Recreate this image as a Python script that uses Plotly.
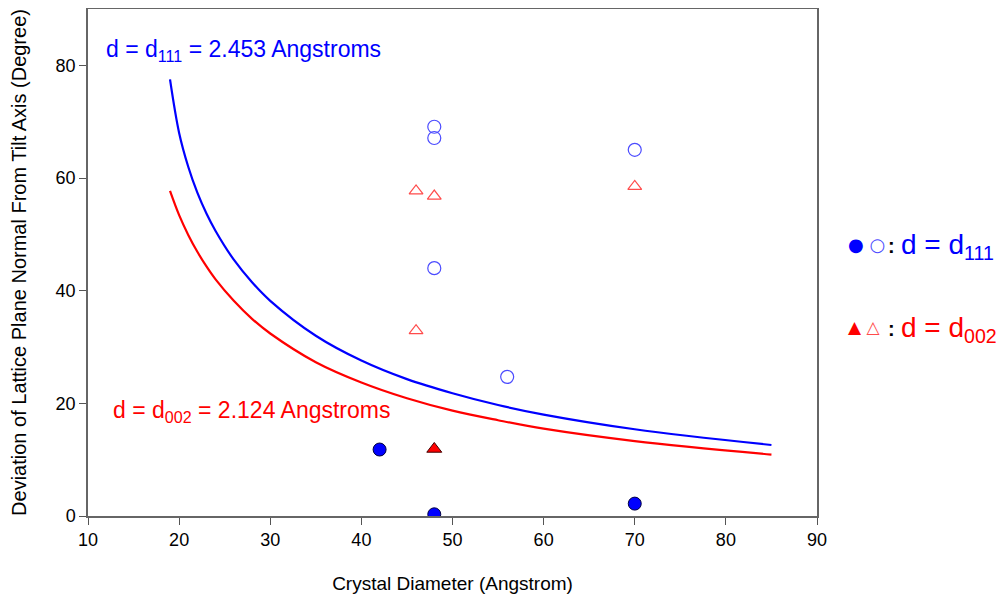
import plotly.graph_objects as go

# ---------------- data ----------------
# theoretical curves
curve_x = [19, 20, 21, 22, 23, 24, 26, 28, 30, 35, 40, 45, 50, 55, 60, 70, 85]
curve_d111 = [77.5, 68.0, 62.0, 57.4, 53.7, 50.6, 45.5, 41.5, 38.2, 32.0, 27.6, 24.3, 21.8, 19.7, 18.0, 15.4, 12.6]
curve_d002 = [57.7, 53.4, 49.9, 46.9, 44.3, 42.0, 38.2, 35.0, 32.4, 27.3, 23.7, 20.9, 18.7, 17.0, 15.5, 13.3, 10.9]

# measured points
d111_filled_x = [42, 48, 70]
d111_filled_y = [11.8, 0.3, 2.2]
d111_open_x = [48, 48, 48, 56, 70]
d111_open_y = [69.1, 67.1, 44.0, 24.7, 65.0]
d002_filled_x = [48]
d002_filled_y = [11.9]
d002_open_x = [46, 48, 46, 70]
d002_open_y = [57.7, 56.8, 32.9, 58.5]

FONT = "Liberation Sans, Arial, sans-serif"
BLUE = "#0000ff"
RED = "#ff0000"
LBLUE = "#4b4bff"
LRED = "#ff4b4b"

fig = go.Figure()
fig.add_trace(go.Scatter(x=curve_x, y=curve_d111, mode="lines", line=dict(color=BLUE, width=2.2, shape="spline"), showlegend=False))
fig.add_trace(go.Scatter(x=curve_x, y=curve_d002, mode="lines", line=dict(color=RED, width=2.2, shape="spline"), showlegend=False))
fig.add_trace(go.Scatter(x=d111_open_x, y=d111_open_y, mode="markers",
                         marker=dict(symbol="circle-open", size=13, color=LBLUE, line=dict(width=1.2)), showlegend=False))
fig.add_trace(go.Scatter(x=d002_open_x, y=d002_open_y, mode="markers",
                         marker=dict(symbol="triangle-up-open", size=12, color=LRED, line=dict(width=1.2)), showlegend=False))
fig.add_trace(go.Scatter(x=d111_filled_x, y=d111_filled_y, mode="markers",
                         marker=dict(symbol="circle", size=13, color=BLUE, line=dict(color="#000040", width=1)), showlegend=False))
fig.add_trace(go.Scatter(x=d002_filled_x, y=d002_filled_y, mode="markers",
                         marker=dict(symbol="triangle-up", size=13, color=RED, line=dict(color="#400000", width=1)), showlegend=False))

axis_common = dict(showgrid=False, zeroline=False, showline=True, linecolor="#666666", linewidth=1.5,
                   mirror=True, ticks="outside", ticklen=7, tickcolor="#555555", tickwidth=1,
                   tickfont=dict(family=FONT, size=18, color="black"))
fig.update_xaxes(range=[10, 90], dtick=10,
                 title=dict(text="Crystal Diameter (Angstrom)", font=dict(family=FONT, size=19, color="black"), standoff=27),
                 **axis_common)
fig.update_yaxes(range=[0, 90], tickvals=[0, 20, 40, 60, 80],
                 title=dict(text="Deviation of Lattice Plane Normal From Tilt Axis (Degree)", font=dict(family=FONT, size=20, color="black"), standoff=24),
                 **axis_common)

annotations = [
    dict(x=11.8, y=82.6, xref="x", yref="y", xanchor="left", yanchor="middle", showarrow=False,
         text="d = d<sub>111</sub> = 2.453 Angstroms", font=dict(family=FONT, size=23, color=BLUE)),
    dict(x=12.5, y=18.6, xref="x", yref="y", xanchor="left", yanchor="middle", showarrow=False,
         text="d = d<sub>002</sub> = 2.124 Angstroms", font=dict(family=FONT, size=23, color=RED)),
    # legend keys
    dict(x=1.040, y=0.536, xref="paper", yref="paper", xanchor="left", yanchor="middle", showarrow=False,
         text="<span style='color:#0000ff'>●</span> <span style='color:#4b4bff'>○</span>",
         font=dict(family="DejaVu Sans", size=18, color=BLUE)),
    dict(x=1.040, y=0.372, xref="paper", yref="paper", xanchor="left", yanchor="middle", showarrow=False,
         text="<span style='color:#ff0000'>▲</span> <span style='color:#ff4b4b'>△</span>",
         font=dict(family="DejaVu Sans", size=17, color=RED)),
    dict(x=1.095, y=0.532, xref="paper", yref="paper", xanchor="left", yanchor="middle", showarrow=False,
         text="<b>:</b>", font=dict(family=FONT, size=20, color="black")),
    dict(x=1.095, y=0.368, xref="paper", yref="paper", xanchor="left", yanchor="middle", showarrow=False,
         text="<b>:</b>", font=dict(family=FONT, size=20, color="black")),
    dict(x=1.113, y=0.531, xref="paper", yref="paper", xanchor="left", yanchor="middle", showarrow=False,
         text="d = d<sub>111</sub>", font=dict(family=FONT, size=28, color=BLUE)),
    dict(x=1.113, y=0.367, xref="paper", yref="paper", xanchor="left", yanchor="middle", showarrow=False,
         text="d = d<sub>002</sub>", font=dict(family=FONT, size=28, color=RED)),
]

# page body has an 8px default margin, so the figure is a little smaller
fig.update_layout(width=997, height=593, margin=dict(l=80, r=188, t=1, b=85, autoexpand=False),
                  paper_bgcolor="white", plot_bgcolor="white", annotations=annotations,
                  font=dict(family=FONT, color="black"))
fig.write_html("out.html")
